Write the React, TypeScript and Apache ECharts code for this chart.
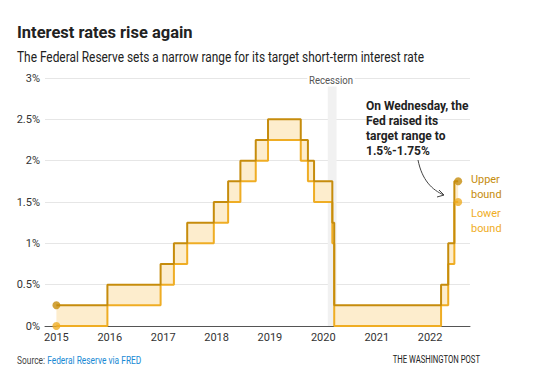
import React, { useEffect, useRef } from "react";
import * as echarts from "echarts";

const dates = [
  "2015-01-01", "2015-12-16", "2016-12-14", "2017-03-15", "2017-06-14",
  "2017-12-13", "2018-03-21", "2018-06-13", "2018-09-26", "2018-12-19",
  "2019-07-31", "2019-09-18", "2019-10-30", "2020-03-03", "2020-03-16",
  "2022-03-17", "2022-05-05", "2022-06-16", "2022-07-12",
];
const upper = [0.25, 0.5, 0.75, 1, 1.25, 1.5, 1.75, 2, 2.25, 2.5, 2.25, 2, 1.75, 1.25, 0.25, 0.5, 1, 1.75, 1.75];
const lower = [0, 0.25, 0.5, 0.75, 1, 1.25, 1.5, 1.75, 2, 2.25, 2, 1.75, 1.5, 1, 0, 0.25, 0.75, 1.5, 1.5];
const yearTicks = ["2015", "2016", "2017", "2018", "2019", "2020", "2021", "2022"];
const recession = ["2020-02-01", "2020-04-01"];

const UPPER_C = "#c68c0c";
const LOWER_C = "#efad24";
const FILL_C = "#fdedcd";
const FONT = "Roboto, 'Noto Sans', sans-serif";

const ts = (d: string) => Date.parse(d + "T00:00:00Z");

export default function App() {
  const ref = useRef<HTMLDivElement>(null);
  useEffect(() => {
    if (!ref.current) return;
    const chart = echarts.init(ref.current, undefined, { renderer: "svg" });
    const last = dates.length - 1;
    const xs = dates.map(ts);
    const bands = xs.slice(0, last).map((x, i) => [x, xs[i + 1], lower[i], upper[i]]);
    chart.setOption({
      animation: false,
      textStyle: { fontFamily: FONT },
      grid: { left: 45, right: 80, top: 78, bottom: 53, containLabel: false },
      xAxis: {
        type: "value",
        min: ts("2014-10-15"),
        max: ts("2022-10-01"),
        axisLine: { show: true, onZero: false, lineStyle: { color: "#555", width: 1 } },
        axisTick: { show: false },
        splitLine: { show: false },
        axisLabel: {
          customValues: yearTicks.map((y) => ts(y + "-01-01")),
          formatter: (v: number) => String(new Date(v).getUTCFullYear()),
          color: "#333",
          fontSize: 11,
          margin: 6,
          fontFamily: FONT,
        },
      },
      yAxis: {
        type: "value",
        min: 0,
        max: 3,
        interval: 0.5,
        axisLine: { show: false },
        axisTick: { show: false },
        splitLine: { lineStyle: { color: "#e6e6e6", width: 1 } },
        axisLabel: {
          formatter: (v: number) => v + "%",
          color: "#333",
          fontSize: 11,
          margin: 5,
          fontFamily: FONT,
        },
      },
      series: [
        {
          type: "custom",
          name: "range",
          silent: true,
          z: 2,
          encode: { x: [0, 1], y: [2, 3] },
          data: bands,
          renderItem: (params: any, api: any) => {
            const p0 = api.coord([api.value(0), api.value(3)]);
            const p1 = api.coord([api.value(1), api.value(2)]);
            return {
              type: "rect",
              shape: { x: p0[0], y: p0[1], width: p1[0] - p0[0], height: p1[1] - p0[1] },
              style: { fill: FILL_C },
            };
          },
          markArea: {
            silent: true,
            itemStyle: { color: "#f1f1f1" },
            data: [[{ xAxis: ts(recession[0]), yAxis: 2.92 }, { xAxis: ts(recession[1]), yAxis: 0 }]],
          },
        },
        {
          type: "line",
          name: "Lower bound",
          step: "end",
          symbol: "none",
          lineStyle: { color: LOWER_C, width: 2 },
          data: xs.map((d, i) => [d, lower[i]]),
          z: 3,
        },
        {
          type: "line",
          name: "Upper bound",
          step: "end",
          symbol: "none",
          lineStyle: { color: UPPER_C, width: 2 },
          data: xs.map((d, i) => [d, upper[i]]),
          z: 4,
        },
        {
          type: "scatter",
          symbolSize: 8,
          itemStyle: { color: LOWER_C },
          data: [[xs[0], lower[0]], [xs[last], lower[last]]],
          z: 5,
        },
        {
          type: "scatter",
          symbolSize: 8,
          itemStyle: { color: UPPER_C },
          data: [[xs[0], upper[0]], [xs[last], upper[last]]],
          z: 5,
        },
      ],
      graphic: [
        {
          type: "text",
          x: 17,
          y: 32,
          scaleX: 0.97,
          style: {
            text: "Interest rates rise again",
            fontSize: 17,
            fontWeight: "bold",
            fill: "#222",
            verticalAlign: "middle",
            fontFamily: FONT,
          },
        },
        {
          type: "text",
          x: 17,
          y: 57,
          scaleX: 0.85,
          style: {
            text: "The Federal Reserve sets a narrow range for its target short-term interest rate",
            fontSize: 14,
            fill: "#222",
            verticalAlign: "middle",
            fontFamily: FONT,
          },
        },
        {
          type: "text",
          x: 331,
          y: 80,
          scaleX: 0.87,
          style: {
            text: "Recession",
            fontSize: 11,
            fill: "#555",
            align: "center",
            verticalAlign: "middle",
            backgroundColor: "#fff",
            padding: [1, 2],
            fontFamily: FONT,
          },
          z: 10,
        },
        {
          type: "text",
          x: 366,
          y: 98,
          style: {
            text: "On Wednesday, the\nFed raised its\ntarget range to\n1.5%-1.75%",
            fontSize: 12,
            fontWeight: "bold",
            lineHeight: 15,
            fill: "#222",
            fontFamily: FONT,
          },
          z: 10,
        },
        {
          type: "bezierCurve",
          shape: { x1: 418, y1: 160, cpx1: 422, cpy1: 180, cpx2: 432, cpy2: 190, x2: 444, y2: 195 },
          style: { stroke: "#444", lineWidth: 1, fill: "none" },
          z: 10,
        },
        {
          type: "polyline",
          shape: { points: [[439, 190], [444, 195], [437, 197]] },
          style: { stroke: "#444", lineWidth: 1, fill: "none" },
          z: 10,
        },
        {
          type: "text",
          x: 471,
          y: 172,
          scaleX: 0.95,
          style: { text: "Upper\nbound", fontSize: 11.5, lineHeight: 15, fill: UPPER_C, fontFamily: FONT },
          z: 10,
        },
        {
          type: "text",
          x: 471,
          y: 206,
          scaleX: 0.95,
          style: { text: "Lower\nbound", fontSize: 11.5, lineHeight: 15, fill: LOWER_C, fontFamily: FONT },
          z: 10,
        },
        {
          type: "text",
          x: 17,
          y: 360,
          scaleX: 0.84,
          style: {
            text: "{a|Source: }{b|Federal Reserve via FRED}",
            verticalAlign: "middle",
            rich: {
              a: { fontSize: 10, fill: "#444", fontFamily: FONT },
              b: { fontSize: 10, fill: "#1a8ad4", fontFamily: FONT },
            },
          },
        },
        {
          type: "text",
          x: 480,
          y: 360,
          scaleX: 0.77,
          style: {
            text: "THE WASHINGTON POST",
            fontSize: 10,
            fill: "#222",
            align: "right",
            verticalAlign: "middle",
            fontFamily: FONT,
          },
        },
      ],
    });
    return () => chart.dispose();
  }, []);
  return <div ref={ref} style={{ width: 550, height: 379, position: "absolute", left: 0, top: 0 }} />;
}
